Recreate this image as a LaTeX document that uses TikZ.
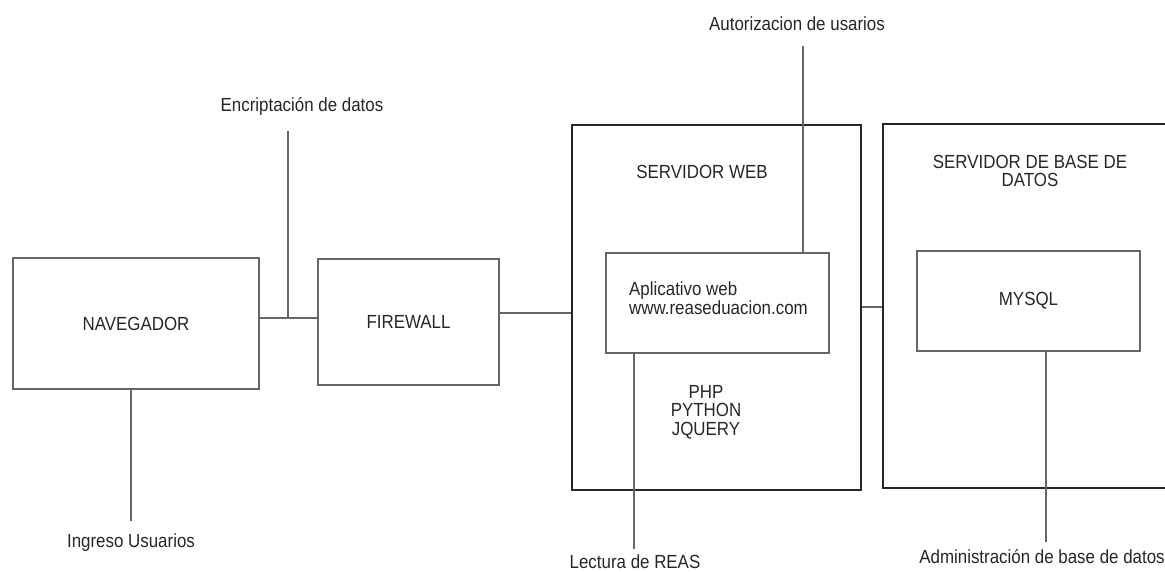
\documentclass[tikz,border=0pt]{standalone}
\usepackage{fontspec}
\setmainfont[FakeStretch=0.89]{Liberation Sans}
\begin{document}
\begin{tikzpicture}[x=1pt,y=-1pt,
  every node/.style={inner sep=0pt, text=black!85, font=\fontsize{19}{18.5}\selectfont},
  thinbox/.style={draw=black!60, line width=1.4pt, rectangle},
  serverbox/.style={draw=black!85, line width=2pt, rectangle},
  link/.style={draw=black!60, line width=1.4pt},
  lbl/.style={align=center}
]
\useasboundingbox (0,0) rectangle (1165,571);

% main blocks
\node[thinbox, minimum width=246pt, minimum height=131pt] (nav) at (136,323.5) {NAVEGADOR};
\node[thinbox, minimum width=181pt, minimum height=126pt] (fw) at (408.5,322) {FIREWALL};
\node[serverbox, minimum width=289pt, minimum height=365pt] (web) at (716.5,307.5) {};
\node[serverbox, minimum width=297pt, minimum height=364pt] (db) at (1031.5,306) {};

% inner blocks
\node[thinbox, minimum width=223pt, minimum height=100pt] (app) at (717.5,303) {};
\node[thinbox, minimum width=223pt, minimum height=100pt] (mysql) at (1028.5,301) {MYSQL};

% texts inside the servers
\node[lbl] (webtitle) at (702,172) {SERVIDOR WEB};
\node[anchor=west, align=left] (apptext) at (629,298) {Aplicativo web\\www.reaseduacion.com};
\node[lbl] (langs) at (706,412) {PHP\\PYTHON\\JQUERY};
\node[lbl] (dbtitle) at (1030,171) {SERVIDOR DE BASE DE\\DATOS};

% annotation ends and labels
\coordinate (j1) at (288,318);
\coordinate (encTop) at (288,131);
\node[lbl] (encLbl) at (302,106) {Encriptación de datos};
\coordinate (authTop) at (803,46);
\node[lbl] (authLbl) at (797,24) {Autorizacion de usarios};
\coordinate (ingBot) at (131,521);
\node[lbl] (ingLbl) at (131,543) {Ingreso Usuarios};
\coordinate (lecBot) at (634,549);
\node[lbl] (lecLbl) at (635,562) {Lectura de REAS};
\coordinate (admBot) at (1046,542);
\node[lbl] (admLbl) at (1042,557) {Administración de base de datos};
\coordinate (fwy) at (0,313);
\coordinate (dby) at (0,307);

% connectors
\draw[link] (nav.east |- j1) -- (fw.west |- j1);
\draw[link] (j1) -- (encTop);
\draw[link] (fw.east |- fwy) -- (web.west |- fwy);
\draw[link] (web.east |- dby) -- (db.west |- dby);
\draw[link] (app.north -| authTop) -- (authTop);
\draw[link] (app.south -| lecBot) -- (lecBot);
\draw[link] (nav.south -| ingBot) -- (ingBot);
\draw[link] (mysql.south -| admBot) -- (admBot);
\end{tikzpicture}
\end{document}
